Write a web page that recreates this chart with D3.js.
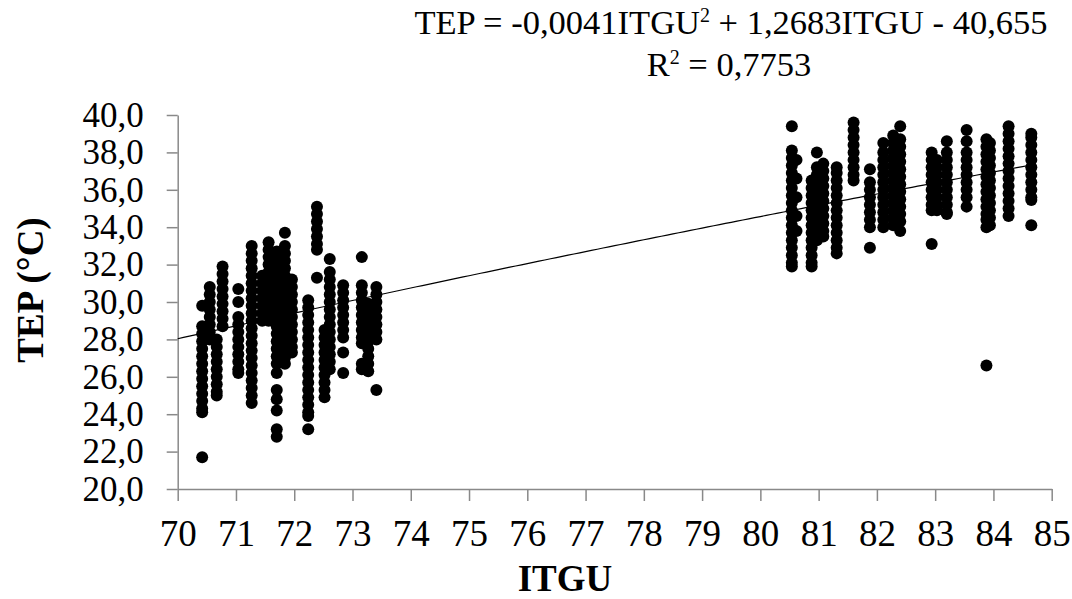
<!DOCTYPE html>
<html>
<head>
<meta charset="utf-8">
<script src="https://cdn.jsdelivr.net/npm/d3@7"></script>
<style>
  body { margin: 0; background: #fff; }
  svg { display: block; }
  .axis path, .axis line { stroke: #898989; stroke-width: 1.5; }
</style>
</head>
<body>
<div id="chart"></div>
<script>
const FRAME_WIDTH = 1072;
const FRAME_HEIGHT = 599;

// axis ticks
const X_TICKS = d3.range(70, 86, 1);
const Y_TICKS = d3.range(20, 41, 2);

// regression  TEP = a*ITGU^2 + b*ITGU + c
const FIT = {a: -0.0041, b: 1.2683, c: -40.655, r2: 0.7753};

// ITGU value of every column of dots (left cluster)
const itgu_left = [70.42, 70.55, 70.67, 70.77, 71.04, 71.27, 71.45, 71.56, 71.70, 71.84,
                   71.96, 72.24, 72.39, 72.52, 72.61, 72.84, 73.16, 73.27, 73.41];
// TEP readings in those columns
const tep_left = [
  [29.8, 28.7, 28.3, 27.9, 27.5, 27.1, 26.7, 26.3, 25.9, 25.5, 25.1, 24.7, 24.3, 24.1, 21.7],
  [30.8, 30.4, 30.0, 29.6, 29.2, 28.8, 28.4, 28.0],
  [28.0, 27.6, 27.2, 26.8, 26.4, 26.0, 25.6, 25.2, 25.0],
  [31.9, 31.5, 31.1, 30.7, 30.3, 29.9, 29.5, 29.1, 28.7],
  [30.7, 30.0, 29.2, 28.8, 28.4, 28.0, 27.6, 27.2, 26.8, 26.4, 26.2],
  [33.0, 32.6, 32.2, 31.8, 31.4, 31.0, 30.6, 30.2, 29.8, 29.4, 29.0, 28.6, 28.2, 27.8, 27.4, 27.0, 26.6, 26.2, 25.8, 25.4, 25.0, 24.6],
  [31.4, 31.0, 30.6, 30.2, 29.8, 29.4, 29.0],
  [33.2, 32.8, 32.4, 32.0, 31.6, 31.2, 30.8, 30.4, 30.0, 29.6, 29.2, 29.0],
  [32.7, 32.3, 31.9, 31.5, 31.1, 30.7, 30.3, 29.9, 29.5, 29.1, 28.7, 28.3, 27.9, 27.5, 27.1, 26.7, 26.2, 25.3, 24.8, 24.2, 23.2, 22.8],
  [33.7, 33.0, 32.6, 32.2, 31.8, 31.4, 31.0, 30.6, 30.2, 29.8, 29.4, 29.0, 28.6, 28.2, 27.8, 27.4, 27.0, 26.7],
  [31.2, 30.8, 30.4, 30.0, 29.6, 29.2, 28.8, 28.4, 28.0, 27.6, 27.3],
  [30.1, 29.7, 29.3, 28.9, 28.5, 28.1, 27.7, 27.3, 26.9, 26.5, 26.1, 25.7, 25.3, 24.9, 24.5, 24.1, 23.9, 23.2],
  [35.1, 34.7, 34.3, 33.9, 33.5, 33.1, 32.8, 31.3],
  [28.5, 28.1, 27.7, 27.3, 26.9, 26.5, 26.1, 25.7, 25.3, 24.9],
  [32.3, 31.6, 31.2, 30.8, 30.4, 30.0, 29.6, 29.2, 28.8, 28.4, 28.0, 27.6, 27.2, 26.8, 26.4],
  [30.9, 30.5, 30.1, 29.7, 29.3, 28.9, 28.5, 28.1, 27.3, 26.2],
  [32.4, 30.9, 30.5, 30.1, 29.7, 29.3, 28.9, 28.5, 28.1, 27.8, 26.7, 26.4],
  [29.9, 29.5, 29.1, 28.7, 28.3, 27.9, 27.5, 27.1, 26.7, 26.3],
  [30.8, 30.4, 30.0, 29.6, 29.2, 28.8, 28.4, 28.0, 25.3]
];

// right cluster
const itgu_right = [80.54, 80.62, 80.88, 80.97, 81.08, 81.31, 81.60, 81.88, 82.11, 82.28,
                    82.40, 82.94, 83.03, 83.20, 83.54, 83.88, 83.94, 84.26, 84.65];
const tep_right = [
  [39.4, 38.1, 37.7, 37.3, 36.9, 36.5, 36.1, 35.7, 35.3, 34.9, 34.5, 34.1, 33.7, 33.3, 32.9, 32.5, 32.1, 31.9],
  [37.6, 36.6, 35.6, 34.6, 33.8],
  [36.5, 36.1, 35.7, 35.3, 34.9, 34.5, 34.1, 33.7, 33.3, 32.9, 32.5, 32.1, 31.9],
  [38.0, 37.2, 36.8, 36.4, 36.0, 35.6, 35.2, 34.8, 34.4, 34.0, 33.6, 33.3],
  [37.4, 37.0, 36.6, 36.2, 35.8, 35.4, 35.0, 34.6, 34.2, 33.8, 33.5],
  [37.2, 36.9, 36.5, 36.1, 35.7, 35.3, 34.9, 34.5, 34.1, 33.7, 33.3, 32.9, 32.6],
  [39.6, 39.2, 38.8, 38.4, 38.0, 37.6, 37.2, 36.8, 36.5],
  [37.1, 36.4, 36.0, 35.6, 35.2, 34.8, 34.4, 34.0, 32.9],
  [38.5, 38.0, 37.6, 37.2, 36.8, 36.4, 36.0, 35.6, 35.2, 34.8, 34.4, 34.0],
  [38.9, 38.5, 38.1, 37.7, 37.3, 36.9, 36.5, 36.1, 35.7, 35.3, 34.9, 34.5, 34.1],
  [39.4, 38.7, 38.3, 37.9, 37.5, 37.1, 36.7, 36.3, 35.9, 35.5, 35.1, 34.7, 34.3, 33.8],
  [38.0, 37.6, 37.2, 36.8, 36.4, 36.0, 35.6, 35.2, 34.9, 33.1],
  [37.6, 37.2, 36.8, 36.4, 36.0, 35.6, 35.2, 34.9],
  [38.6, 38.0, 37.6, 37.2, 36.8, 36.4, 36.0, 35.6, 35.2, 34.8, 34.7],
  [39.2, 38.6, 38.0, 37.6, 37.2, 36.8, 36.4, 36.0, 35.6, 35.1],
  [38.7, 38.3, 37.9, 37.5, 37.1, 36.7, 36.3, 35.9, 35.5, 35.1, 34.7, 34.4, 34.0, 26.6],
  [38.5, 38.1, 37.7, 37.3, 36.9, 36.5, 36.1, 35.7, 35.3, 34.9, 34.5, 34.1],
  [39.4, 39.0, 38.6, 38.2, 37.8, 37.4, 37.0, 36.6, 36.2, 35.8, 35.4, 35.0, 34.6],
  [39.0, 38.8, 38.4, 38.0, 37.6, 37.2, 36.8, 36.4, 36.0, 35.6, 35.45, 34.1]
];

// pick the first serif face that is really installed (compare against monospace)
function pickFont(list) {
  const ctx = document.createElement("canvas").getContext("2d");
  const probe = "ITGU 0,0041 abcdefghijklm";
  ctx.font = "40px monospace";
  const base = ctx.measureText(probe).width;
  for (const f of list) {
    ctx.font = "40px '" + f + "', monospace";
    if (Math.abs(ctx.measureText(probe).width - base) > 0.5) return "'" + f + "'";
  }
  return "serif";
}
const FONT = pickFont(["Liberation Serif", "Times New Roman", "Tinos", "Noto Serif", "DejaVu Serif"]);

// flatten columns into points
const points = [];
[[itgu_left, tep_left], [itgu_right, tep_right]].forEach(([xs, ys]) => {
  xs.forEach((x, i) => ys[i].forEach((y) => points.push({itgu: x, tep: y})));
});

const svg = d3.select("#chart")
  .append("svg")
    .attr("width", FRAME_WIDTH)
    .attr("height", FRAME_HEIGHT)
    .style("font-family", FONT);

const x = d3.scaleLinear().domain([70, 85]).range([177.7, 1051.7]);
const y = d3.scaleLinear().domain([20, 40]).range([489, 115]);

// x axis
const xAxis = svg.append("g")
  .attr("class", "axis")
  .attr("transform", "translate(0," + y(20) + ")")
  .call(d3.axisBottom(x).tickValues(X_TICKS).tickSize(12).tickSizeOuter(0).tickPadding(19)
    .tickFormat((d) => d));
xAxis.attr("font-family", null).attr("font-size", null);
xAxis.selectAll("text").style("font-size", "37px").style("fill", "#000");

// y axis
const yAxis = svg.append("g")
  .attr("class", "axis")
  .attr("transform", "translate(" + x(70) + ",0)")
  .call(d3.axisLeft(y).tickValues(Y_TICKS).tickSize(11).tickSizeOuter(0).tickPadding(23)
    .tickFormat((d) => d3.format(".1f")(d).replace(".", ",")));
yAxis.attr("font-family", null).attr("font-size", null);
yAxis.selectAll("text").style("font-size", "35px").style("fill", "#000");

// dots
svg.append("g")
  .selectAll("circle")
  .data(points)
  .enter()
  .append("circle")
    .attr("cx", (d) => x(d.itgu))
    .attr("cy", (d) => y(d.tep))
    .attr("r", 6)
    .style("fill", "#000");

// trend line
const fitX = d3.range(70, 84.71, 0.1);
svg.append("path")
  .datum(fitX)
  .attr("fill", "none")
  .attr("stroke", "#000")
  .attr("stroke-width", 1.2)
  .attr("d", d3.line()
    .x((d) => x(d))
    .y((d) => y(FIT.a * d * d + FIT.b * d + FIT.c)));

// equation
const fmt = (v) => String(v).replace(".", ",");
const eq = svg.append("text")
  .attr("x", 731)
  .attr("y", 34)
  .attr("text-anchor", "middle")
  .style("font-size", "34.5px");
eq.append("tspan").text("TEP = " + fmt(FIT.a) + "ITGU");
eq.append("tspan").attr("dy", -12).style("font-size", "20px").text("2");
eq.append("tspan").attr("dy", 12).text(" + " + fmt(FIT.b) + "ITGU - " + fmt(Math.abs(FIT.c)));

const r2 = svg.append("text")
  .attr("x", 729)
  .attr("y", 76)
  .attr("text-anchor", "middle")
  .style("font-size", "34.5px");
r2.append("tspan").text("R");
r2.append("tspan").attr("dy", -12).style("font-size", "20px").text("2");
r2.append("tspan").attr("dy", 12).text(" = " + fmt(FIT.r2));

// axis titles
svg.append("text")
  .attr("transform", "translate(43,290) rotate(-90)")
  .attr("text-anchor", "middle")
  .style("font-size", "37px")
  .style("font-weight", "bold")
  .text("TEP (°C)");

svg.append("text")
  .attr("x", 565)
  .attr("y", 591)
  .attr("text-anchor", "middle")
  .style("font-size", "37px")
  .style("font-weight", "bold")
  .text("ITGU");
</script>
</body>
</html>
